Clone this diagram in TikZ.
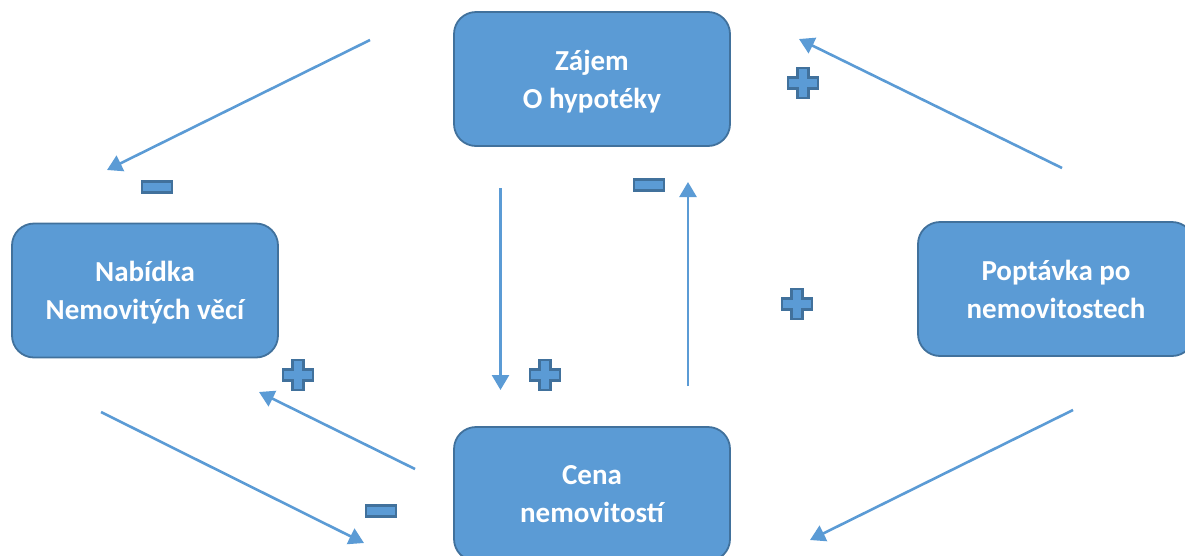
\documentclass[tikz,border=0pt]{standalone}
\usepackage{fontspec}
\setmainfont{Carlito}
\usetikzlibrary{arrows.meta}
\definecolor{boxfill}{HTML}{5B9BD5}
\definecolor{boxline}{HTML}{41719C}
\tikzset{
  box/.style={draw=boxline, line width=1.8pt, fill=boxfill, rounded corners=22pt,
    minimum width=#1, minimum height=134pt, align=center, text=white,
    font=\bfseries\fontsize{29}{38}\selectfont, inner sep=0pt, text depth=0pt},
  conn/.style={draw=boxfill, line width=2.6pt, -{Triangle[length=15pt,width=17pt]}},
  pics/plussign/.style={code={
    \draw[boxline, line width=2.2pt, fill=boxfill]
      (-5.5,-15) -- (5.5,-15) -- (5.5,-5.5) -- (15,-5.5) -- (15,5.5) -- (5.5,5.5)
      -- (5.5,15) -- (-5.5,15) -- (-5.5,5.5) -- (-15,5.5) -- (-15,-5.5) -- (-5.5,-5.5) -- cycle;
  }},
  pics/minussign/.style={code={
    \draw[boxline, line width=2.2pt, fill=boxfill] (-15,-5.5) rectangle (15,5.5);
  }}
}
\begin{document}
\begin{tikzpicture}[x=1pt,y=-1pt]
\useasboundingbox (0,0) rectangle (1185,555);
\clip (0,0) rectangle (1185,555);
% boxes
\node[box=276pt] (zajem) at (592,79) {Zájem\\O hypotéky};
\node[box=266pt] (nabidka) at (145,290.5) {Nabídka\\Nemovitých věcí};
\node[box=276pt] (poptavka) at (1056,289) {Poptávka po\\nemovitostech};
\node[box=276pt] (cena) at (592,494) {Cena\\nemovitostí};
% arrow end points
\coordinate (a1s) at (370,40);   \coordinate (a1e) at (107,170);
\coordinate (a2s) at (500.5,188); \coordinate (a2e) at (500.5,390);
\coordinate (a3s) at (688,386);  \coordinate (a3e) at (688,182);
\coordinate (a4s) at (1062,168); \coordinate (a4e) at (799,39);
\coordinate (a5s) at (415,469);  \coordinate (a5e) at (259,392);
\coordinate (a6s) at (101,412);  \coordinate (a6e) at (364,543);
\coordinate (a7s) at (1073,410); \coordinate (a7e) at (810,540);
\draw[conn] (a1s) -- (a1e);
\draw[conn] (a2s) -- (a2e);
\draw[conn] (a3s) -- (a3e);
\draw[conn] (a4s) -- (a4e);
\draw[conn] (a5s) -- (a5e);
\draw[conn] (a6s) -- (a6e);
\draw[conn] (a7s) -- (a7e);
% signs
\pic (m1) at (157,187) {minussign};
\pic (m2) at (649,185) {minussign};
\pic (m3) at (381,511) {minussign};
\pic (p1) at (803,83) {plussign};
\pic (p2) at (797,304) {plussign};
\pic (p3) at (545,375) {plussign};
\pic (p4) at (298,375) {plussign};
\end{tikzpicture}
\end{document}
